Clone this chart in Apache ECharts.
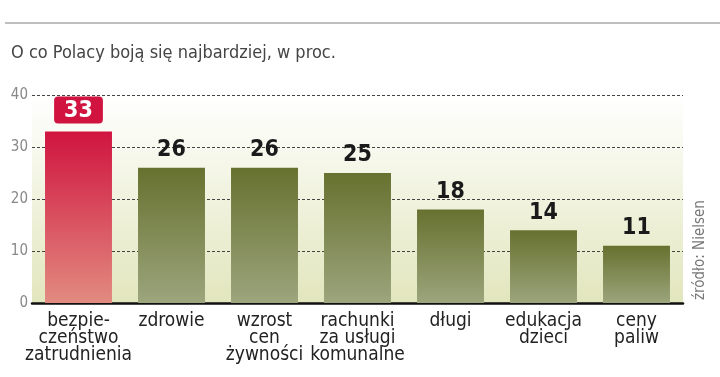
<!DOCTYPE html>
<html>
<head>
<meta charset="utf-8">
<script src="https://cdn.jsdelivr.net/npm/echarts@6/dist/echarts.min.js"></script>
<style>
  html, body { margin: 0; padding: 0; background: #fff; }
  #chart { width: 720px; height: 377px; }
</style>
</head>
<body>
<div id="chart"></div>
<script>
const categories = [
  'bezpie-\nczeństwo\nzatrudnienia',
  'zdrowie',
  'wzrost\ncen\nżywności',
  'rachunki\nza usługi\nkomunalne',
  'długi',
  'edukacja\ndzieci',
  'ceny\npaliw'
]
const values = [33, 26, 26, 25, 18, 14, 11]
const yTicks = [0, 10, 20, 30, 40]

const chart = echarts.init(document.getElementById('chart'))

const narrow = "'Liberation Sans Narrow', 'DejaVu Sans Condensed', 'Roboto', sans-serif"

const redFill = new echarts.graphic.LinearGradient(0, 0, 0, 1, [
  { offset: 0, color: '#d0143f' },
  { offset: 1, color: '#e28b80' }
])
const greenFill = new echarts.graphic.LinearGradient(0, 0, 0, 1, [
  { offset: 0, color: '#67712f' },
  { offset: 1, color: '#9ca57c' }
])

const option = {
  backgroundColor: '#fff',
  animation: false,
  title: {
    text: 'O co Polacy boją się najbardziej, w proc.',
    left: 6,
    top: 39,
    textStyle: { color: '#444', fontSize: 18, fontWeight: 'normal', fontFamily: narrow }
  },
  graphic: [
    {
      type: 'line',
      shape: { x1: 5, y1: 23, x2: 720, y2: 23 },
      style: { stroke: '#aaa', lineWidth: 1.5 }
    },
    {
      type: 'text',
      x: 700,
      y: 300,
      rotation: Math.PI / 2,
      style: {
        text: 'źródło: Nielsen',
        fill: '#777',
        fontSize: 15,
        fontFamily: narrow,
        align: 'left',
        verticalAlign: 'middle'
      }
    }
  ],
  grid: {
    left: 32,
    right: 37,
    top: 95,
    bottom: 74,
    show: true,
    borderWidth: 0,
    backgroundColor: new echarts.graphic.LinearGradient(0, 0, 0, 1, [
      { offset: 0, color: '#ffffff' },
      { offset: 1, color: '#e2e6bd' }
    ])
  },
  xAxis: {
    type: 'category',
    data: categories,
    axisLine: { lineStyle: { color: '#111', width: 2.5 } },
    axisTick: { show: false },
    axisLabel: {
      color: '#222',
      fontSize: 19,
      lineHeight: 17,
      fontFamily: narrow,
      margin: 10,
      interval: 0
    }
  },
  yAxis: {
    type: 'value',
    min: 0,
    max: 40,
    interval: 10,
    axisLine: { show: false },
    axisTick: { show: false },
    axisLabel: {
      color: '#888',
      fontSize: 15,
      fontFamily: narrow,
      margin: 4,
      formatter: v => yTicks.includes(v) ? String(v) : ''
    },
    splitLine: { lineStyle: { color: '#444', type: [3, 2], width: 1 } }
  },
  series: [{
    type: 'bar',
    barWidth: '72%',
    data: values.map((v, i) => ({
      value: v,
      itemStyle: { color: i === 0 ? redFill : greenFill },
      label: i === 0 ? {
        color: '#fff',
        backgroundColor: '#d0143f',
        borderRadius: 4,
        padding: [3, 10, 1, 10],
        distance: 8
      } : {}
    })),
    label: {
      show: true,
      position: 'top',
      distance: 6,
      color: '#1a1a1a',
      fontSize: 23,
      fontWeight: 'bold',
      fontFamily: narrow
    }
  }]
}

chart.setOption(option)
window.addEventListener('resize', () => chart.resize())
</script>
</body>
</html>
